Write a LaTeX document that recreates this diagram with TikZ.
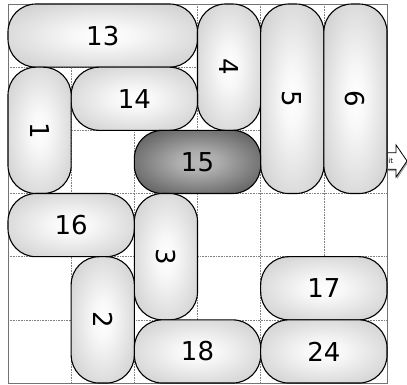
\documentclass[tikz,border=0pt]{standalone}
\usepackage{fontspec}
\setmainfont{DejaVu Sans}
\pgfdeclareradialshading{piece}{\pgfpoint{0bp}{0bp}}{color(0bp)=(white); color(8bp)=(white!97!black); color(50bp)=(black!30); color(75bp)=(black!35)}
\pgfdeclareradialshading{target}{\pgfpoint{0bp}{0bp}}{color(0bp)=(black!28); color(8bp)=(black!32); color(50bp)=(black!88); color(75bp)=(black!92)}
\begin{document}
\begin{tikzpicture}[x=63.17pt,y=-63.17pt,
  piece/.style={draw=black, line width=1.1pt, rounded corners=28pt, shading=piece, inner sep=0pt,
    minimum height=63.17pt, font=\fontsize{26}{26}\selectfont},
  len2/.style={minimum width=126.34pt},
  len3/.style={minimum width=189.51pt},
  vert/.style={rotate=-90},
  dark/.style={shading=target},
  gridline/.style={gray, densely dotted, line width=0.6pt}]
\useasboundingbox (-0.1266,-0.0633) rectangle (6.316,6.031);
% exit arrow
\fill[black!35] (5.5,2.385) -- (6.160,2.385) -- (6.160,2.260) -- (6.33,2.515) -- (6.160,2.770) -- (6.160,2.645) -- (5.5,2.645) -- cycle;
\draw[fill=white, line width=0.8pt] (5.5,2.355) -- (6.142,2.355) -- (6.142,2.230) -- (6.316,2.485) -- (6.142,2.740) -- (6.142,2.615) -- (5.5,2.615) -- cycle;
\node[anchor=east, inner sep=0pt, font=\fontsize{7}{7}\selectfont] (exit) at (6.10,2.485) {Exit};
% board
\fill[white] (0,0) rectangle (6,6);
\foreach \i in {1,...,5} {
  \draw[gridline] (\i,0) -- (\i,6);
  \draw[gridline] (0,\i) -- (6,\i);
}
\draw[black!55, line width=0.8pt] (0,0) rectangle (6,6);
% pieces
\node[piece, len3] (p13) at (1.5,0.5) {13};
\node[piece, len2, vert] (p4) at (3.5,1) {4};
\node[piece, len3, vert] (p5) at (4.5,1.5) {5};
\node[piece, len3, vert] (p6) at (5.5,1.5) {6};
\node[piece, len2] (p14) at (2,1.5) {14};
\node[piece, len2, vert] (p1) at (0.5,2) {1};
\node[piece, len2, dark] (p15) at (3,2.5) {15};
\node[piece, len2] (p16) at (1,3.5) {16};
\node[piece, len2, vert] (p3) at (2.5,4) {3};
\node[piece, len2, vert] (p2) at (1.5,5) {2};
\node[piece, len2] (p18) at (3,5.5) {18};
\node[piece, len2] (p17) at (5,4.5) {17};
\node[piece, len2] (p24) at (5,5.5) {24};
\end{tikzpicture}
\end{document}
